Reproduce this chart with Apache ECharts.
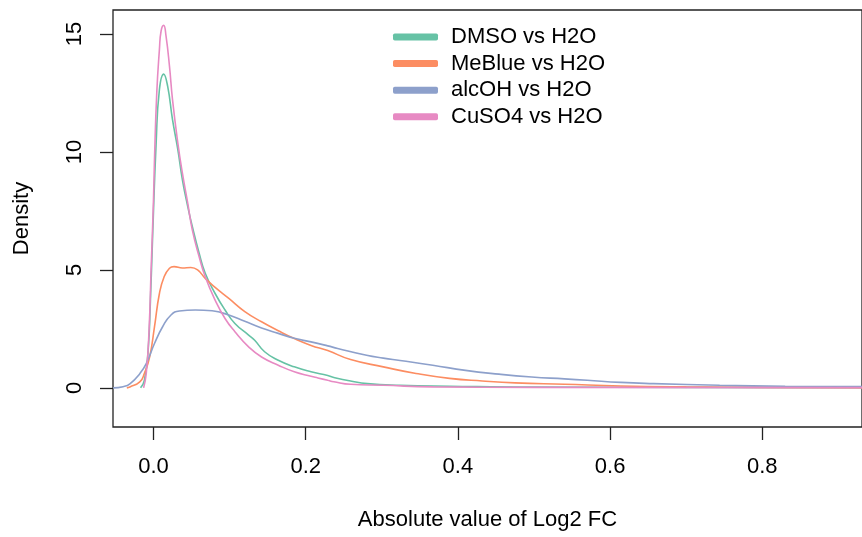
<!DOCTYPE html>
<html>
<head>
<meta charset="utf-8">
<script src="https://cdn.jsdelivr.net/npm/echarts@6/dist/echarts.min.js"></script>
<style>
  html, body { margin: 0; padding: 0; background: #fff; }
  #density-chart { width: 862px; height: 537px; }
</style>
</head>
<body>
<div id="density-chart"></div>
<script>
// density curves, [log2 FC, density]
const seriesNames = ['DMSO vs H2O', 'MeBlue vs H2O', 'alcOH vs H2O', 'CuSO4 vs H2O'];
const seriesColors = ['#66C2A5', '#FC8D62', '#8DA0CB', '#E78AC3'];

const dmsoPts = [
  [-0.017, 0], [-0.012, 0.32], [-0.007, 1.6], [-0.004, 3.72], [-0.001, 6.56], [0.0035, 10.38],
  [0.0078, 12.65], [0.0134, 13.3], [0.0186, 12.79], [0.025, 11.37], [0.032, 10.1], [0.038, 8.82],
  [0.045, 7.69], [0.051, 6.84], [0.06, 5.71], [0.068, 4.86], [0.081, 4.0], [0.094, 3.3],
  [0.107, 2.73], [0.125, 2.24], [0.133, 2.02], [0.146, 1.53], [0.164, 1.17], [0.185, 0.89],
  [0.207, 0.68], [0.229, 0.52], [0.237, 0.44], [0.259, 0.29], [0.281, 0.18], [0.324, 0.11],
  [0.389, 0.07], [0.5, 0.03], [0.7, 0.02], [0.931, 0.01]
];
const meBluePts = [
  [-0.035, 0], [-0.031, 0.04], [-0.018, 0.25], [-0.012, 0.61], [-0.005, 1.31], [0.0013, 2.59],
  [0.0078, 4.0], [0.014, 4.71], [0.021, 5.07], [0.027, 5.14], [0.038, 5.08], [0.049, 5.1],
  [0.058, 5.0], [0.068, 4.64], [0.081, 4.26], [0.099, 3.79], [0.12, 3.23], [0.142, 2.8],
  [0.164, 2.42], [0.185, 2.09], [0.207, 1.8], [0.229, 1.58], [0.259, 1.2], [0.302, 0.89],
  [0.345, 0.61], [0.389, 0.4], [0.432, 0.29], [0.475, 0.21], [0.54, 0.15], [0.614, 0.08],
  [0.7, 0.04], [0.8, 0.02], [0.931, 0.01]
];
const alcOHPts = [
  [-0.053, 0], [-0.04, 0.05], [-0.031, 0.17], [-0.018, 0.6], [-0.0095, 1.03], [0.0013, 1.88],
  [0.012, 2.59], [0.023, 3.09], [0.034, 3.26], [0.055, 3.3], [0.077, 3.27], [0.088, 3.2],
  [0.099, 3.09], [0.12, 2.82], [0.142, 2.54], [0.164, 2.31], [0.185, 2.1], [0.207, 1.95],
  [0.229, 1.78], [0.242, 1.67], [0.28, 1.38], [0.302, 1.26], [0.324, 1.16], [0.367, 0.96],
  [0.41, 0.74], [0.454, 0.58], [0.497, 0.46], [0.54, 0.38], [0.57, 0.32], [0.614, 0.23],
  [0.657, 0.18], [0.744, 0.11], [0.83, 0.07], [0.931, 0.05]
];
const cuso4Pts = [
  [-0.013, 0], [-0.0095, 0.61], [-0.006, 2.31], [-0.003, 5.14], [0.0, 7.97], [0.0013, 9.67],
  [0.0043, 12.5], [0.0078, 14.35], [0.01, 15.13], [0.0134, 15.37], [0.0165, 14.91], [0.021, 13.64],
  [0.025, 12.22], [0.032, 10.38], [0.038, 9.1], [0.045, 7.83], [0.051, 6.7], [0.06, 5.56],
  [0.068, 4.71], [0.081, 3.72], [0.094, 2.94], [0.107, 2.38], [0.125, 1.74], [0.142, 1.31],
  [0.164, 0.96], [0.185, 0.68], [0.207, 0.49], [0.216, 0.42], [0.229, 0.32], [0.237, 0.26],
  [0.259, 0.15], [0.302, 0.11], [0.367, 0.04], [0.5, 0.02], [0.931, 0.01]
];

const xTicks = [0, 0.2, 0.4, 0.6, 0.8];
const yTicks = [0, 5, 10, 15];

const allPts = [dmsoPts, meBluePts, alcOHPts, cuso4Pts];
const font = 'Liberation Sans, Arial, Helvetica, sans-serif';

const chart = echarts.init(document.getElementById('density-chart'));
const option = {
  animation: false,
  grid: {
    left: 113, right: -9, top: 10, bottom: 110,
    show: true, borderColor: '#222', borderWidth: 1.3, backgroundColor: 'transparent'
  },
  legend: {
    orient: 'vertical',
    left: 388,
    top: 21,
    icon: 'roundRect',
    itemWidth: 45,
    itemHeight: 7,
    itemGap: 4.6,
    textStyle: { fontFamily: font, fontSize: 22, color: '#000', padding: [0, 0, 0, 8] },
    data: seriesNames
  },
  xAxis: {
    type: 'value',
    min: -0.0532,
    max: 0.931,
    name: 'Absolute value of Log2 FC',
    nameLocation: 'middle',
    nameGap: 82,
    nameTextStyle: { fontFamily: font, fontSize: 22, color: '#000' },
    splitLine: { show: false },
    axisLine: { show: false, onZero: false },
    axisTick: { show: true, inside: false, length: 13, customValues: xTicks, lineStyle: { color: '#222', width: 1.3 } },
    axisLabel: {
      customValues: xTicks, margin: 29,
      fontFamily: font, fontSize: 22, color: '#000',
      formatter: v => v.toFixed(1)
    }
  },
  yAxis: {
    type: 'value',
    min: -1.66,
    max: 16.02,
    name: 'Density',
    nameLocation: 'middle',
    nameGap: 80,
    nameTextStyle: { fontFamily: font, fontSize: 22, color: '#000' },
    splitLine: { show: false },
    axisLine: { show: false, onZero: false },
    axisTick: { show: true, inside: false, length: 13, customValues: yTicks, lineStyle: { color: '#222', width: 1.3 } },
    axisLabel: {
      customValues: yTicks, margin: 27, rotate: 90,
      fontFamily: font, fontSize: 22, color: '#000'
    }
  },
  series: seriesNames.map((name, i) => ({
    name: name,
    type: 'line',
    data: allPts[i],
    showSymbol: false,
    smooth: 0.5,
    color: seriesColors[i],
    lineStyle: { width: 1.6, color: seriesColors[i] }
  }))
};
chart.setOption(option);
</script>
</body>
</html>
